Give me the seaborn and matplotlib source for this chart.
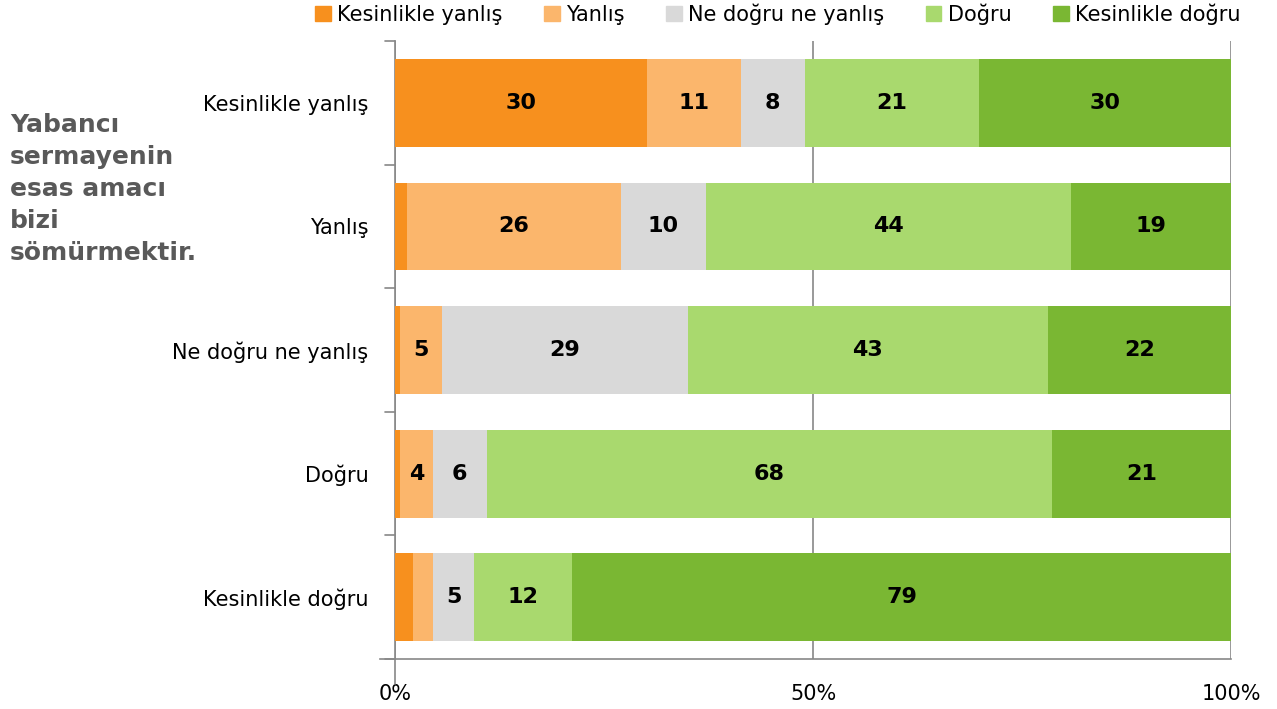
import numpy as np
import pandas as pd
import matplotlib.pyplot as plt
import seaborn as sns

# rows (answer to first question) and stacked answer categories
rows = ['Kesinlikle yanlış', 'Yanlış', 'Ne doğru ne yanlış', 'Doğru', 'Kesinlikle doğru']
series = ['Kesinlikle yanlış', 'Yanlış', 'Ne doğru ne yanlış', 'Doğru', 'Kesinlikle doğru']
colors = ['#F7901E', '#FBB66C', '#D9D9D9', '#A9D96E', '#7AB733']

kes_yanlis = [30.1, 1.4, 0.6, 0.6, 2.1]
yanlis = [11.3, 25.6, 5.0, 3.9, 2.5]
ne_ne = [7.6, 10.2, 29.4, 6.5, 4.8]
dogru = [20.9, 43.7, 43.1, 67.6, 11.8]
kes_dogru = [30.1, 19.1, 21.9, 21.4, 78.8]

vals = np.array([kes_yanlis, yanlis, ne_ne, dogru, kes_dogru])
cum = vals.cumsum(axis=0)

sns.set_theme(style='white')
plt.rcParams['font.family'] = ['DejaVu Sans']

fig = plt.figure(figsize=(12.77, 7.09), dpi=100)
ax = fig.add_axes([0.3093, 0.0705, 0.6547, 0.8715])

# draw cumulative bars from the widest down so they stack
for i in range(len(series) - 1, -1, -1):
    df = pd.DataFrame({'row': rows, 'val': cum[i]})
    sns.barplot(data=df, x='val', y='row', orient='h', color=colors[i],
                width=0.71, saturation=1, linewidth=0, ax=ax, zorder=3)

for i in range(len(series)):
    for j in range(len(rows)):
        v = vals[i, j]
        if v >= 3.5:
            ax.text(cum[i, j] - v / 2, j, f'{v:.0f}', ha='center', va='center',
                    fontsize=16, fontweight='bold', color='black', zorder=4)

ax.set_xlim(0, 100)
ax.set_ylim(4.5, -0.5)
ax.set_xticks([0, 50, 100])
ax.set_xticklabels(['0%', '50%', '100%'], fontsize=15, color='black')
ax.xaxis.grid(True, color='#888888', lw=1.2, zorder=0)
ax.set_xlabel('')
ax.set_ylabel('')
ax.tick_params(axis='y', labelsize=15, length=0, pad=19, labelcolor='black')
ax.tick_params(axis='x', pad=18, length=0)
for b in [-0.5, 0.5, 1.5, 2.5, 3.5, 4.5]:
    ax.plot([-1.2, 0], [b, b], color='#888888', lw=1.2, clip_on=False, zorder=2)
ax.plot([0, 0], [4.5, 4.7], color='#888888', lw=1.2, clip_on=False)
for s in ['top', 'right']:
    ax.spines[s].set_visible(False)
for s in ['left', 'bottom']:
    ax.spines[s].set_color('#888888')
    ax.spines[s].set_linewidth(1.2)
ax.spines['bottom'].set_bounds(-1.8, 100)

handles = [plt.Rectangle((0, 0), 1, 1, color=c) for c in colors]
fig.legend(handles, series, loc='upper center', bbox_to_anchor=(0.609, 1.022),
           ncol=5, frameon=False, fontsize=15, handlelength=0.75, handleheight=0.75,
           handletextpad=0.3, columnspacing=2.0, labelcolor='black')

fig.text(0.008, 0.84, 'Yabancı\nsermayenin\nesas amacı\nbizi\nsömürmektir.',
         ha='left', va='top', fontsize=18, fontweight='bold', color='#595959',
         linespacing=1.42)

fig.savefig('out.png', dpi=100)
